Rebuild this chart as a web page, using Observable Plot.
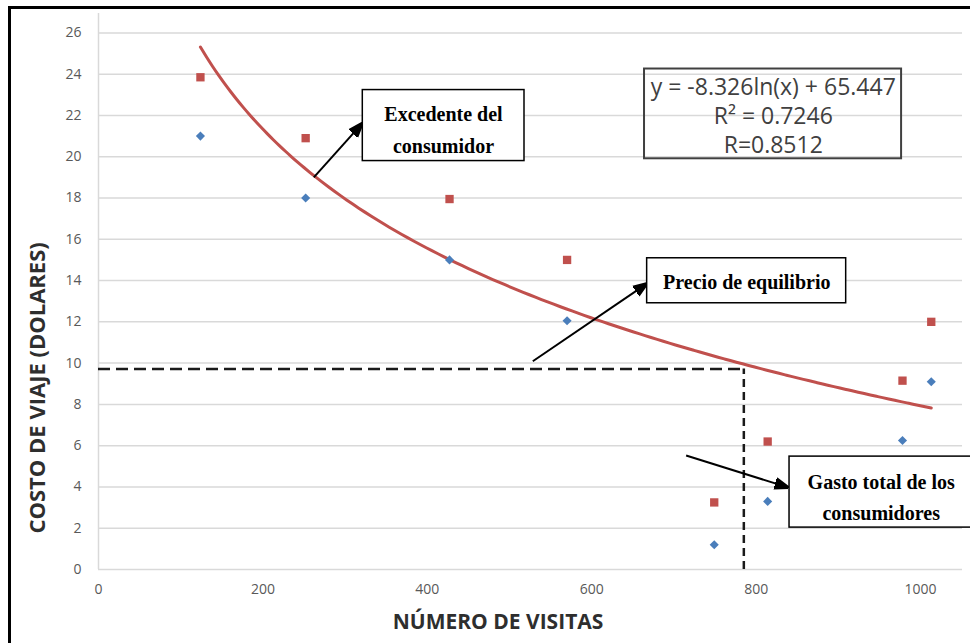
<!DOCTYPE html>
<html>
<head>
<meta charset="utf-8">
<script src="https://cdn.jsdelivr.net/npm/d3@7"></script>
<script src="https://cdn.jsdelivr.net/npm/@observablehq/plot@0.6"></script>
<style>
  html, body { margin: 0; padding: 0; background: #fff; overflow: hidden; }
  #wrap { position: relative; width: 970px; height: 643px; overflow: hidden; }
  #frame { position: absolute; left: 8px; top: 6px; width: 1000px; height: 700px;
           border-left: 3px solid #000; border-top: 3px solid #000; pointer-events: none; }
</style>
</head>
<body>
<div id="wrap"><div id="frame"></div></div>
<script>
// ---- data ----
const visits     = [124, 252, 427, 570, 749, 814, 978, 1013];
const costBlue   = [21, 18, 15, 12.05, 1.2, 3.3, 6.25, 9.1];
const costRed    = [23.85, 20.9, 17.95, 15, 3.25, 6.2, 9.15, 12.0];
const yTicks     = [0, 2, 4, 6, 8, 10, 12, 14, 16, 18, 20, 22, 24, 26];
const xTicks     = [0, 200, 400, 600, 800, 1000];
const trendA     = -8.326;   // from the equation printed on the chart
const trendB     = 65.447;
const eqPrice    = 9.72;     // dashed equilibrium lines
const eqQty      = 785;
const xTitle     = "NÚMERO DE VISITAS";
const yTitle     = "COSTO DE VIAJE (DOLARES)";
const eqLines    = "y = -8.326ln(x) + 65.447\nR² = 0.7246\nR=0.8512";
const calloutText = ["Excedente del\nconsumidor", "Precio de equilibrio", "Gasto total de los\nconsumidores"];

// ---- annotation geometry (data units) ----
const calloutBoxes = [
  {x1: 321.5, x2: 518.2, y1: 19.79, y2: 23.23},
  {x1: 667.4, x2: 909.5, y1: 12.9,  y2: 15.08},
  {x1: 840.6, x2: 1075,  y1: 2.03,  y2: 5.47}
];
const calloutPos = [
  {x: 419.7, y: 21.45, lh: 1.58},
  {x: 788.6, y: 13.94, lh: 1.2},
  {x: 952.1, y: 3.62,  lh: 1.55}
];
const arrows = [
  {x1: 261.9, y1: 19.0,  x2: 320,   y2: 21.58},
  {x1: 528.3, y1: 10.09, x2: 666.2, y2: 13.83},
  {x1: 714.8, y1: 5.52,  x2: 837.8, y2: 3.99}
];
const eqBox = {x1: 664.2, x2: 976.9, y1: 19.9, y2: 24.25};

const blue = visits.map((v, i) => ({x: v, y: costBlue[i]}));
const red  = visits.map((v, i) => ({x: v, y: costRed[i]}));
const xMin = d3.min(visits), xMax = d3.max(visits);
const trend = d3.range(0, 121).map(k => {
  const x = xMin + (xMax - xMin) * k / 120;
  return {x, y: trendA * Math.log(x) + trendB};
});

function filledArrow(color) {
  const ns = "http://www.w3.org/2000/svg";
  const m = document.createElementNS(ns, "marker");
  m.setAttribute("viewBox", "-5 -5 10 10");
  m.setAttribute("markerWidth", 7);
  m.setAttribute("markerHeight", 7);
  m.setAttribute("refX", 4);
  m.setAttribute("orient", "auto");
  const p = document.createElementNS(ns, "path");
  p.setAttribute("d", "M-5,-3.6L5,0L-5,3.6Z");
  p.setAttribute("fill", color);
  m.appendChild(p);
  return m;
}

const calloutMarks = calloutText.map((t, i) =>
  Plot.text([t], {x: () => calloutPos[i].x, y: () => calloutPos[i].y, text: d => d,
    fontFamily: "'Liberation Serif', serif", fontWeight: 700, fontSize: 20, fill: "#000",
    lineAnchor: "middle", textAnchor: "middle", lineHeight: calloutPos[i].lh}));

const grid = "#d9d9d9";
const chart = Plot.plot({
  width: 970,
  height: 643,
  marginLeft: 98,
  marginRight: 8,
  marginTop: 13,
  marginBottom: 74,
  style: {fontFamily: "'Open Sans', sans-serif", background: "transparent"},
  x: {domain: [0, 1051]},
  y: {domain: [0, 26.94]},
  marks: [
    Plot.gridY(yTicks, {stroke: grid, strokeOpacity: 1, strokeWidth: 1.5}),
    Plot.ruleX([0], {stroke: grid, strokeWidth: 1.5}),
    Plot.axisY(yTicks, {tickSize: 0, tickPadding: 17, fontSize: 14, fill: "#595959", label: null}),
    Plot.axisX(xTicks, {tickSize: 0, tickPadding: 15, fontSize: 14, fill: "#595959", label: null, tickFormat: d3.format("d")}),
    Plot.text([xTitle], {x: () => 486, frameAnchor: "bottom", dy: 53, fontSize: 21, fontWeight: 700,
      fill: "#2e2e2e", text: d => d, lineAnchor: "middle", textAnchor: "middle"}),
    Plot.text([yTitle], {y: () => 8.8, frameAnchor: "left", dx: -61, rotate: -90, fontSize: 22, fontWeight: 700,
      fill: "#2e2e2e", text: d => d, lineAnchor: "middle", textAnchor: "middle"}),
    // dashed equilibrium guides
    Plot.ruleY([eqPrice], {y: d => d, x1: () => 0, x2: () => eqQty, stroke: "#1a1a1a", strokeWidth: 2.5, strokeDasharray: "12,6"}),
    Plot.ruleX([eqQty], {x: d => d, y1: () => 0, y2: () => eqPrice, stroke: "#1a1a1a", strokeWidth: 2.5, strokeDasharray: "8,5"}),
    // trend line
    Plot.line(trend, {x: "x", y: "y", stroke: "#c0504d", strokeWidth: 3, curve: "natural"}),
    // data points
    Plot.dot(blue, {x: "x", y: "y", symbol: "diamond2", r: 4.1, fill: "#4a7ebb", stroke: "none"}),
    Plot.dot(red,  {x: "x", y: "y", symbol: "square",   r: 4.7, fill: "#c0504d", stroke: "none"}),
    // equation box (transparent)
    Plot.rect([eqBox], {x1: "x1", x2: "x2", y1: "y1", y2: "y2", fill: "none", stroke: "#404040", strokeWidth: 2}),
    Plot.text([eqLines], {x: () => 820.8, y: () => 22.05, text: d => d, fontSize: 23, fill: "#404040",
      lineHeight: 1.26, lineAnchor: "middle", textAnchor: "middle"}),
    // arrows
    Plot.link(arrows, {x1: "x1", y1: "y1", x2: "x2", y2: "y2", stroke: "#000", strokeWidth: 2, markerEnd: filledArrow}),
    // callout boxes
    Plot.rect(calloutBoxes, {x1: "x1", x2: "x2", y1: "y1", y2: "y2", fill: "#fff", stroke: "#000", strokeWidth: 1.5}),
    ...calloutMarks
  ]
});
document.getElementById("wrap").prepend(chart);
</script>
</body>
</html>
